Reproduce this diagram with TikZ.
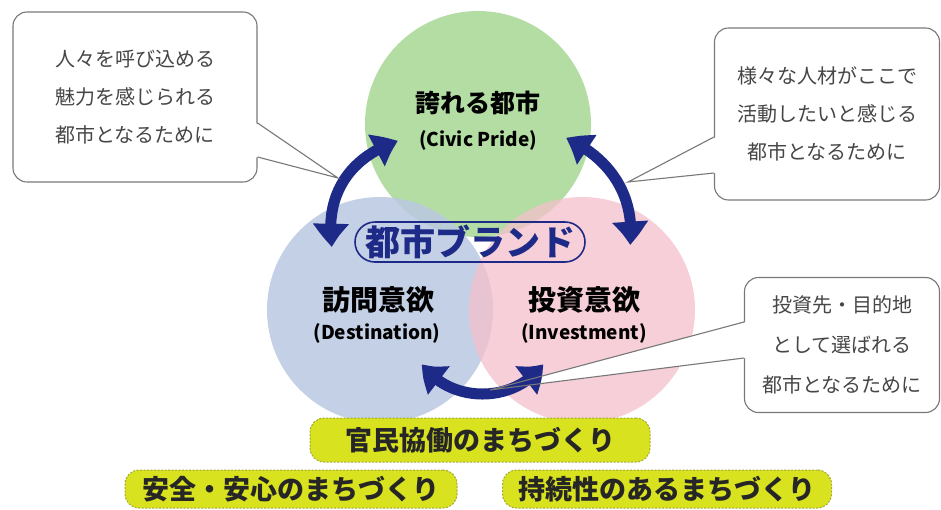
\documentclass[tikz,border=0pt]{standalone}
\usepackage{fontspec}
\setmainfont{Noto Sans CJK JP}
\usetikzlibrary{calc,arrows.meta,bending}

\definecolor{civicgreen}{RGB}{180,221,164}
\definecolor{visitblue}{RGB}{186,200,226}
\definecolor{investpink}{RGB}{245,192,204}
\definecolor{brandblue}{RGB}{30,42,135}
\definecolor{notegray}{RGB}{70,70,70}
\definecolor{boxgray}{RGB}{120,120,120}
\definecolor{plankyellow}{RGB}{216,226,30}
\definecolor{plankedge}{RGB}{160,168,60}

\begin{document}
\begin{tikzpicture}[x=1pt,y=-1pt,
    ring/.style={circle,minimum size=226pt,inner sep=0pt},
    twoway/.style={line width=11pt,draw=brandblue,<->,>={Triangle[length=24pt,width=34pt,bend]}},
    balloon/.style={draw=boxgray,line width=1.1pt,fill=white,rounded corners=14pt,
      text=notegray,align=center,font=\fontsize{20}{38}\selectfont},
    beak/.style={draw=boxgray,line width=1.1pt},
    plank/.style={fill=plankyellow,draw=plankedge,dash pattern=on 2pt off 1.5pt,line width=1pt,
      rounded corners=14pt,inner sep=0pt,text=black!85,font=\bfseries\fontsize{27}{27}\selectfont}]
  \useasboundingbox[fill=white] (0,0) rectangle (941,509);
  % three circles
  \node[ring,fill=civicgreen] (civic) at (478,124) {};
  \node[ring,fill=visitblue,fill opacity=.85] (visit) at (380,310) {};
  \node[ring,fill=investpink,fill opacity=.75] (invest) at (582,310) {};
  \node[font=\bfseries\fontsize{25}{25}\selectfont] (civich) at (478,103) {誇れる都市};
  \node[font=\bfseries\fontsize{19}{19}\selectfont] at (478,140) {(Civic Pride)};
  \node[font=\bfseries\fontsize{28}{28}\selectfont] (visith) at (378,300) {訪問意欲};
  \node[font=\bfseries\fontsize{19}{19}\selectfont] at (377,333) {(Destination)};
  \node[font=\bfseries\fontsize{28}{28}\selectfont] (investh) at (584,300) {投資意欲};
  \node[font=\bfseries\fontsize{19}{19}\selectfont] at (584,333) {(Investment)};
  \node[draw=brandblue,line width=1.6pt,rounded corners=20pt,minimum width=230pt,minimum height=40pt,
    inner sep=0pt,text=brandblue,font=\bfseries\fontsize{35}{35}\selectfont] (brand) at (470,242) {都市ブランド};
  % callouts
  \node[balloon,minimum width=244pt,minimum height=170pt] (lnote) at (135,97)
    {人々を呼び込める\\魅力を感じられる\\都市となるために};
  \coordinate (ltip) at (338,178);
  \fill[white] ($(lnote.east)+(-2,26)$) -- (ltip) -- ($(lnote.east)+(-2,60)$) -- cycle;
  \node[balloon,minimum width=225pt,minimum height=172pt] (rnote) at (827,114)
    {様々な人材がここで\\活動したいと感じる\\都市となるために};
  \coordinate (rtip) at (628,182);
  \fill[white] ($(rnote.west)+(2,23)$) -- (rtip) -- ($(rnote.west)+(2,59)$) -- cycle;
  \node[balloon,minimum width=195pt,minimum height=135pt,font=\fontsize{20}{40}\selectfont] (bnote) at (842,345)
    {投資先・目的地\\として選ばれる\\都市となるために};
  \coordinate (btip) at (490,390);
  \fill[white] ($(bnote.west)+(2,-23)$) -- (btip) -- ($(bnote.west)+(2,13)$) -- cycle;
  % arrows
  \coordinate (lt) at (398,141);
  \coordinate (lb) at (332,247);
  \coordinate (rt) at (566,138);
  \coordinate (rb) at (630,245);
  \coordinate (bl) at (422,364);
  \coordinate (br) at (543,364);
  \draw[twoway] (lb) .. controls (324,192) and (352,156) .. (lt);
  \draw[twoway] (rt) .. controls (606,156) and (636,192) .. (rb);
  \draw[twoway] (bl) .. controls (450,404) and (515,404) .. (br);
  \draw[beak] ($(lnote.east)+(0,26)$) -- (ltip) -- ($(lnote.east)+(0,60)$);
  \draw[beak] ($(rnote.west)+(0,23)$) -- (rtip) -- ($(rnote.west)+(0,59)$);
  \draw[beak] ($(bnote.west)+(0,-23)$) -- (btip) -- ($(bnote.west)+(0,13)$);
  % bottom planks
  \node[plank,minimum width=340pt,minimum height=44pt] (coop) at (480,440) {官民協働のまちづくり};
  \node[plank,minimum width=332pt,minimum height=38pt] (safe) at (291,489) {安全・安心のまちづくり};
  \node[plank,minimum width=329pt,minimum height=38pt] (green) at (667,489) {持続性のあるまちづくり};
\end{tikzpicture}
\end{document}
